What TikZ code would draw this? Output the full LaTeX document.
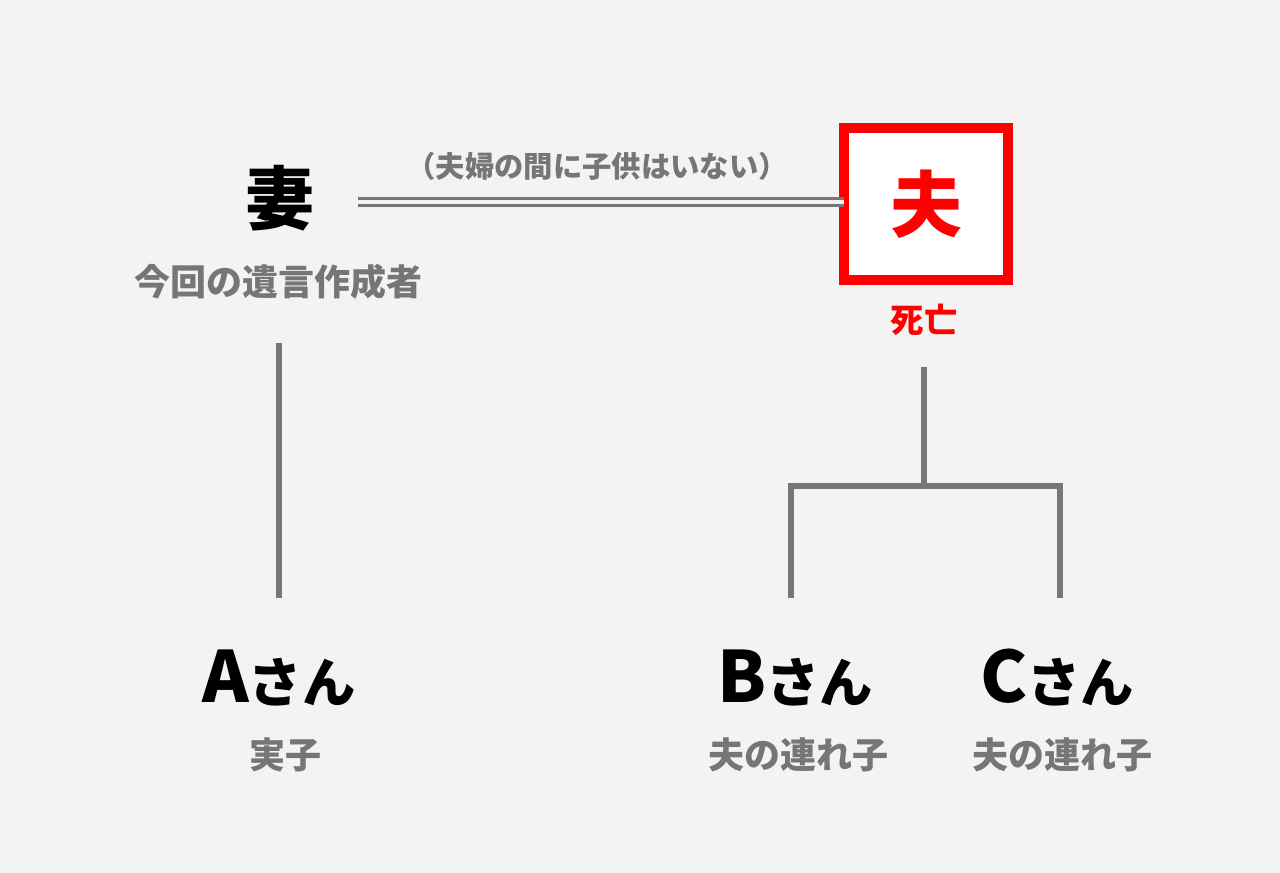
\documentclass[tikz,border=0pt]{standalone}
\usepackage{fontspec}
\setmainfont{Noto Sans CJK JP}
\definecolor{bg}{HTML}{F3F3F3}
\definecolor{txtgray}{HTML}{767676}
\definecolor{linegray}{HTML}{777777}
\definecolor{deadred}{HTML}{FF0000}
\newcommand{\pname}[1]{{\fontsize{53}{60}\selectfont #1}{\fontsize{40}{48}\selectfont さん}}
\begin{document}
\begin{tikzpicture}[x=0.75pt,y=-0.75pt,
  every node/.style={inner sep=0pt,outer sep=0pt,font=\bfseries},
  bigname/.style={font=\fontsize{52}{60}\selectfont\bfseries,text=black},
  person/.style={anchor=base,font=\bfseries,text=black},
  sublabel/.style={font=\fontsize{27}{32}\selectfont\bfseries,text=txtgray},
  note/.style={font=\fontsize{22}{26}\selectfont\bfseries,text=txtgray},
  deadbox/.style={draw=deadred,fill=white,line width=7.5pt,minimum width=122.6pt,minimum height=114.4pt,
    font=\fontsize{54}{60}\selectfont\bfseries,text=deadred},
  deadlabel/.style={font=\fontsize{25}{30}\selectfont\bfseries,text=deadred},
  tree/.style={draw=linegray,line width=4.5pt},
  marriage/.style={draw=linegray,line width=2.25pt,double=bg,double distance=2.4pt}
]
\fill[bg] (0,0) rectangle (1280,873);
\useasboundingbox (0,0) rectangle (1280,873);

% wife
\node[bigname] (wife) at (280,198) {妻};
\node[sublabel] (wifel) at (278,282) {今回の遺言作成者};

% husband
\node[deadbox] (hus) at (926,204) {夫};
\node[deadlabel] (husl) at (924,320) {死亡};

% marriage line
\coordinate (mleft) at (358,202);
\draw[marriage] (mleft) -- (mleft -| hus.west);
\node[note] (mnote) at (597,166) {（夫婦の間に子供はいない）};

% children
\node[person] (A) at (279,702) {\pname{A}};
\node[sublabel] (Al) at (285,755) {実子};
\node[person] (B) at (795,702) {\pname{B}};
\node[sublabel] (Bl) at (798,755) {夫の連れ子};
\node[person] (C) at (1057,702) {\pname{C}};
\node[sublabel] (Cl) at (1062,755) {夫の連れ子};

% tree lines
\coordinate (wtop) at (279,343);
\coordinate (atop) at (279,598);
\draw[tree] (wtop) -- (atop);

\coordinate (htop) at (924,367);
\coordinate (hjoin) at (924,486);
\coordinate (bl) at (791,486);
\coordinate (cr) at (1060,486);
\coordinate (btop) at (791,598);
\coordinate (ctop) at (1060,598);
\draw[tree] (htop) -- (hjoin);
\draw[tree] (btop) -- (bl) -- (cr) -- (ctop);
\end{tikzpicture}
\end{document}
